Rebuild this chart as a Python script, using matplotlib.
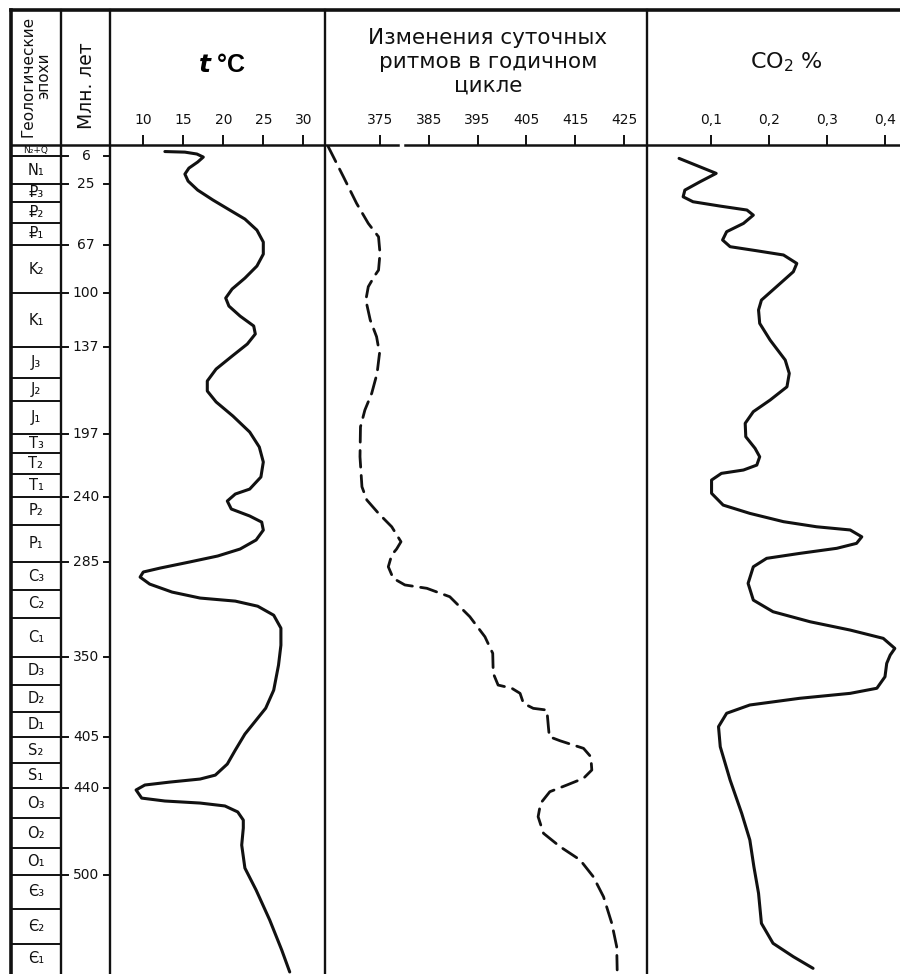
import matplotlib
matplotlib.use("Agg")
import matplotlib.pyplot as plt

# --- data -------------------------------------------------------------
epoch_labels = ["N₂+Q", "N₁", "₽₃", "₽₂", "₽₁", "K₂", "K₁", "J₃", "J₂", "J₁",
                "T₃", "T₂", "T₁", "P₂", "P₁", "C₃", "C₂", "C₁", "D₃", "D₂",
                "D₁", "S₂", "S₁", "O₃", "O₂", "O₁", "Є₃", "Є₂", "Є₁"]
# epoch boundaries, million years (internal ones)
epoch_bounds = [6, 25, 37, 51.5, 67, 100, 137, 158, 174, 197, 210, 224, 240,
                259, 285, 304, 323, 350, 369, 388, 405, 423, 440, 461, 481,
                500, 523, 547]
ma_ticks = [6, 25, 67, 100, 137, 197, 240, 285, 350, 405, 440, 500]

temp_ticks = [10, 15, 20, 25, 30]
rhythm_ticks = [375, 385, 395, 405, 415, 425]
co2_ticks = [0.1, 0.2, 0.3, 0.4]
co2_ticklabels = ["0,1", "0,2", "0,3", "0,4"]

temp_ma = [2.6, 3.0, 4.3, 6.4, 9.8, 14.0, 18.1, 22.9, 29.1, 35.9,
           42.8, 49.0, 56.6, 64.8, 73.1, 81.3, 89.6, 97.1, 103.3, 108.8,
           115.7, 122.5, 128.0, 134.9, 143.2, 152.1, 160.3, 167.2, 174.7, 184.4,
           195.4, 205.7, 216.0, 226.3, 234.6, 238.0, 242.8, 248.3, 253.1, 257.3,
           262.8, 269.6, 275.8, 280.6, 284.7, 288.9, 291.6, 295.1, 299.9, 305.4,
           309.5, 311.6, 315.1, 321.3, 330.2, 341.9, 355.6, 372.8, 385.2, 394.8,
           403.0, 414.0, 423.6, 431.2, 433.9, 436.0, 438.0, 441.4, 447.0, 449.0,
           450.4, 452.4, 456.5, 462.1, 467.6, 479.3, 495.1, 510.2, 530.8, 551.4,
           566.5]
temp_c = [12.7, 15.2, 16.7, 17.5, 16.8, 15.7, 15.2, 15.6, 16.8, 18.7,
          20.8, 22.7, 24.2, 25.0, 25.0, 24.2, 22.7, 21.1, 20.3, 20.7,
          22.1, 23.8, 24.0, 23.0, 21.1, 19.1, 18.0, 18.0, 19.1, 21.2,
          23.3, 24.5, 25.0, 24.7, 23.3, 21.5, 20.5, 21.0, 23.3, 24.8,
          25.0, 24.1, 22.1, 19.3, 15.8, 12.1, 10.0, 9.6, 10.8, 13.6,
          17.1, 21.5, 24.3, 26.3, 27.2, 27.2, 26.9, 26.3, 25.3, 23.9,
          22.7, 21.5, 20.5, 19.0, 17.1, 13.3, 10.2, 9.1, 9.8, 12.7,
          17.1, 20.2, 21.8, 22.5, 22.5, 22.3, 22.7, 24.1, 25.8, 27.3,
          28.3]

rhythm_ma = [-0.7, 19.9, 38.2, 52.0, 61.2, 72.6, 84.1, 87.5, 95.5, 104.7,
             118.4, 129.9, 141.3, 155.1, 168.8, 180.3, 191.8, 212.4, 233.0, 242.1,
             251.3, 260.5, 270.8, 275.8, 279.9, 288.0, 295.9, 300.5, 302.8, 308.6,
             322.3, 336.1, 347.5, 361.2, 369.3, 371.5, 375.0, 381.9, 385.3, 386.5,
             397.9, 404.8, 407.6, 412.8, 418.6, 427.7, 433.4, 438.0, 442.6, 450.6,
             459.8, 471.2, 480.4, 489.5, 501.0, 514.8, 533.1, 549.1, 565.1]
rhythm_days = [364.4, 367.5, 370.2, 372.6, 374.7, 375.0, 374.7, 374.0, 372.6, 372.1,
               373.0, 374.3, 374.9, 374.4, 373.3, 371.9, 371.0, 370.9, 371.3, 372.3,
               374.7, 377.4, 379.3, 378.4, 377.4, 376.7, 377.7, 380.1, 384.6, 389.3,
               393.4, 396.5, 398.1, 398.2, 399.2, 402.0, 403.7, 404.4, 406.4, 409.2,
               409.5, 409.7, 411.9, 416.7, 418.2, 418.4, 416.7, 413.3, 409.8, 407.9,
               407.4, 408.5, 411.9, 416.0, 418.7, 420.8, 422.5, 423.5, 423.6]

co2_ma = [7.3, 13.1, 17.6, 23.4, 29.1, 33.7, 37.1, 40.1, 42.8, 46.3,
          52.0, 57.7, 63.4, 68.0, 70.8, 73.7, 79.5, 85.2, 95.5, 104.7,
          111.5, 120.7, 132.2, 145.9, 155.1, 164.3, 173.4, 181.4, 189.4, 198.6,
          206.6, 212.4, 218.1, 221.5, 223.8, 228.4, 237.5, 245.6, 251.3, 257.0,
          260.5, 262.7, 267.4, 271.9, 275.3, 278.8, 282.2, 288.0, 299.4, 310.9,
          318.9, 325.8, 331.5, 337.2, 344.1, 348.7, 354.4, 363.6, 371.5, 375.0,
          378.4, 383.0, 388.7, 397.9, 411.7, 434.6, 457.5, 475.8, 494.2, 512.4,
          533.1, 546.8, 556.0, 564.0]
co2_pct = [0.045, 0.081, 0.109, 0.081, 0.055, 0.052, 0.069, 0.116, 0.162, 0.173,
           0.156, 0.127, 0.120, 0.133, 0.179, 0.225, 0.248, 0.242, 0.213, 0.187,
           0.182, 0.184, 0.202, 0.228, 0.235, 0.231, 0.202, 0.173, 0.159, 0.160,
           0.176, 0.184, 0.179, 0.156, 0.118, 0.101, 0.101, 0.121, 0.167, 0.225,
           0.282, 0.340, 0.360, 0.351, 0.317, 0.253, 0.196, 0.173, 0.164, 0.173,
           0.207, 0.271, 0.340, 0.397, 0.417, 0.409, 0.403, 0.400, 0.386, 0.340,
           0.253, 0.167, 0.127, 0.113, 0.116, 0.133, 0.153, 0.167, 0.174, 0.182,
           0.187, 0.207, 0.242, 0.276]

# --- layout -----------------------------------------------------------
W, H = 900, 974
HDR = 145            # header line, px from top
MA_LIM = (567.9, -1.9)
INK = "#111111"

fig = plt.figure(figsize=(W / 100, H / 100), dpi=100)
plt.rcParams["font.family"] = ["DejaVu Sans", "Noto Sans"]

frame = fig.add_axes([0, 0, 1, 1])
frame.set_xlim(0, W)
frame.set_ylim(H, 0)
frame.axis("off")


def column(x0, x1):
    ax = fig.add_axes([x0 / W, 0, (x1 - x0) / W, (H - HDR) / H])
    ax.set_facecolor("none")
    ax.set_ylim(*MA_LIM)
    for s in ax.spines.values():
        s.set_visible(False)
    ax.set_yticks([])
    return ax


# frame lines
frame.plot([11, W], [10, 10], color=INK, lw=2.6)
frame.plot([11, 11], [10, H], color=INK, lw=2.6)
frame.plot([11, 398], [HDR, HDR], color=INK, lw=1.8)
frame.plot([405, W], [HDR, HDR], color=INK, lw=1.8)
for xv in [61, 110, 325, 647]:
    frame.plot([xv, xv], [10, H], color=INK, lw=1.7)

# header texts
frame.text(36, 76, "Геологические\nэпохи", rotation=90, ha="center", va="center",
           fontsize=11, linespacing=1.0, color=INK)
frame.text(86, 86, "Млн. лет", rotation=90, ha="center", va="center",
           fontsize=13.5, color=INK)
frame.text(222, 65, r"$\bfit{t}$ °C", ha="center", va="center", fontsize=18,
           fontweight="bold", family="Liberation Sans", color="black")
frame.text(488, 62, "Изменения суточных\nритмов в годичном\nцикле", ha="center",
           va="center", fontsize=15.5, linespacing=1.25, color=INK)
frame.text(786, 62, "CO$_2$ %", ha="center", va="center", fontsize=16, color=INK)

# epochs column
ax_ep = column(11, 61)
ax_ep.set_xlim(0, 1)
ax_ep.set_xticks([])
edges = [MA_LIM[1]] + epoch_bounds + [MA_LIM[0]]
for b in epoch_bounds:
    ax_ep.axhline(b, color=INK, lw=1.4)
for i, lab in enumerate(epoch_labels):
    mid = (edges[i] + edges[i + 1]) / 2
    fs = 6.5 if i == 0 else 10.5
    ax_ep.text(0.5, mid, lab, ha="center", va="center", fontsize=fs, color=INK)

# Ma column
ax_ma = column(61, 110)
ax_ma.set_xlim(0, 49)
ax_ma.set_xticks([])
for m in ma_ticks:
    ax_ma.plot([0, 7], [m, m], color=INK, lw=1.4)
    ax_ma.plot([43, 49], [m, m], color=INK, lw=1.4)
    ax_ma.text(25, m, str(m), ha="center", va="center", fontsize=10, color=INK)

tick_kw = dict(length=7, width=1.4, color=INK, labelsize=10, pad=6,
               labelcolor=INK)

# temperature
ax_t = column(110, 325)
ax_t.set_xlim(5.84, 32.71)
ax_t.plot(temp_c, temp_ma, color=INK, lw=2.2, solid_joinstyle="round",
          solid_capstyle="round")

# day rhythm (days per year)
ax_r = column(325, 647)
ax_r.set_xlim(363.73, 429.71)
ax_r.plot(rhythm_days, rhythm_ma, color=INK, lw=2.0, linestyle=(0, (6, 3)),
          dash_capstyle="round")

# CO2
ax_c = column(647, W)
ax_c.set_xlim(-0.0103, 0.4259)
ax_c.plot(co2_pct, co2_ma, color=INK, lw=2.2, solid_joinstyle="round",
          solid_capstyle="round")

for ax, ticks, labels in [(ax_t, temp_ticks, [str(v) for v in temp_ticks]),
                          (ax_r, rhythm_ticks, [str(v) for v in rhythm_ticks]),
                          (ax_c, co2_ticks, co2_ticklabels)]:
    ax.xaxis.tick_top()
    ax.set_xticks(ticks)
    ax.set_xticklabels(labels)
    ax.tick_params(axis="x", direction="out", **tick_kw)

fig.savefig("out.png", dpi=100)
